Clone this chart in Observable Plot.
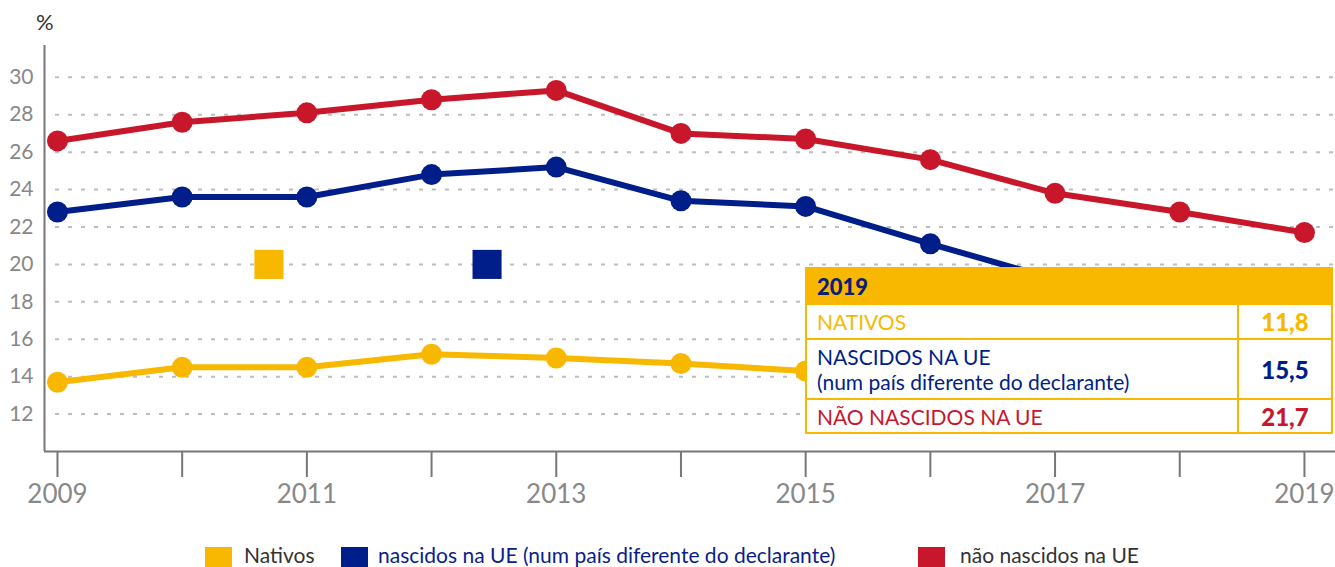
<!DOCTYPE html>
<html>
<head>
<meta charset="utf-8">
<script src="https://cdn.jsdelivr.net/npm/d3@7"></script>
<script src="https://cdn.jsdelivr.net/npm/@observablehq/plot@0.6"></script>
<style>
  html, body { margin: 0; padding: 0; background: #fff; }
  body { font-family: Lato, "Open Sans", sans-serif; }
  #wrap { position: relative; width: 1335px; height: 567px; overflow: hidden; background: #fff; }
  #chart svg { display: block; }
  #unit { position: absolute; left: 36px; top: 8px; font-size: 22px; color: #333; }
  #tip { position: absolute; left: 805px; top: 267px; width: 528px; background: #fff; }
  #tip table { border-collapse: collapse; width: 100%; background: #fff; }
  #tip th { background: #F9B800; color: #0A1E7A; text-align: left; font-size: 22px; font-weight: 900;
            height: 34px; padding: 0 10px; border: 2px solid #F9B800; }
  #tip td { border: 2px solid #F9B800; padding: 0 10px; font-size: 21px; line-height: 25px; }
  #tip td.val { width: 72px; text-align: center; font-weight: 900; font-size: 24px; }
  .legend { position: absolute; top: 530px; height: 37px; display: flex; align-items: center; font-size: 21px; }
  .legend .sw { width: 27px; height: 27px; margin-top: 24px; margin-right: 12px; flex: none; }
  .legend span { margin-top: 12px; }
</style>
</head>
<body>
<div id="wrap">
  <div id="chart"></div>
  <div id="unit">%</div>
  <div id="tip"></div>
</div>
<script>
// ---- data ----
const years = [2009, 2010, 2011, 2012, 2013, 2014, 2015, 2016, 2017, 2018, 2019];
const nativos       = [13.7, 14.5, 14.5, 15.2, 15.0, 14.7, 14.3, 13.6, 13.0, 12.4, 11.8];
const nascidosUE    = [22.8, 23.6, 23.6, 24.8, 25.2, 23.4, 23.1, 21.1, 19.2, 17.4, 15.5];
const naoNascidosUE = [26.6, 27.6, 28.1, 28.8, 29.3, 27.0, 26.7, 25.6, 23.8, 22.8, 21.7];
const seriesNames = ["Nativos", "nascidos na UE (num país diferente do declarante)", "não nascidos na UE"];
const seriesColors = ["#F9B800", "#001E8A", "#C8172B"];
const legendTextColors = ["#333333", "#0A1E8A", "#333333"];
const tableYear = 2019;
const tableLabels = ["NATIVOS", "NASCIDOS NA UE", "(num país diferente do declarante)", "NÃO NASCIDOS NA UE"];
const yTicks = [12, 14, 16, 18, 20, 22, 24, 26, 28, 30];
const xLabelYears = [2009, 2011, 2013, 2015, 2017, 2019];
const xDomain = [2008.896, 2019.249];
const yDomain = [10, 31.7];
// stray square markers seen in the chart
const strayX = [2010.696, 2012.445];
const strayY = [20, 20];
const straySeries = [seriesNames[0], seriesNames[1]];

// ---- build table ----
const allSeries = [nativos, nascidosUE, naoNascidosUE];
const data = [];
allSeries.forEach((vals, s) => years.forEach((yr, i) => data.push({year: yr, value: vals[i], series: seriesNames[s]})));
const markers = strayX.map((x, i) => ({x, y: strayY[i], series: straySeries[i]}));

const chart = Plot.plot({
  width: 1335,
  height: 530,
  marginLeft: 44,
  marginRight: 0,
  marginTop: 45,
  marginBottom: 79,
  x: {domain: xDomain, label: null},
  y: {domain: yDomain, label: null},
  color: {domain: seriesNames, range: seriesColors},
  style: {fontFamily: "Lato, sans-serif", background: "white", overflow: "visible"},
  marks: [
    Plot.gridY(yTicks, {insetLeft: 11, stroke: "#bdbdbd", strokeOpacity: 1, strokeWidth: 2, strokeDasharray: "4,9"}),
    Plot.axisY(yTicks, {tickSize: 0, tickPadding: 11, fontSize: 21, fill: "#888", label: null}),
    Plot.axisX(years, {tickSize: 26, tickPadding: 7, fontSize: 26, fill: "#888", stroke: "#777", strokeWidth: 2,
      label: null, tickFormat: d => xLabelYears.includes(d) ? String(d) : ""}),
    Plot.ruleY([yDomain[0]], {stroke: "#777", strokeWidth: 2}),
    Plot.ruleX([xDomain[0]], {y1: yDomain[0], y2: yDomain[1], stroke: "#777", strokeWidth: 2}),
    Plot.dot(markers, {x: "x", y: "y", fill: "series", symbol: "square", r: 16.4}),
    Plot.lineY(data, {x: "year", y: "value", z: "series", stroke: "series", strokeWidth: 6}),
    Plot.dot(data, {x: "year", y: "value", fill: "series", r: 10.5})
  ]
});
document.getElementById("chart").appendChild(chart);

// ---- tooltip table ----
const idx = years.indexOf(tableYear);
const fmt = v => v.toFixed(1).replace(".", ",");
const tip = document.getElementById("tip");
tip.innerHTML = `
<table>
  <tr><th colspan="2">${tableYear}</th></tr>
  <tr style="height:35px"><td style="color:${seriesColors[0]}">${tableLabels[0]}</td>
      <td class="val" style="color:${seriesColors[0]}">${fmt(nativos[idx])}</td></tr>
  <tr style="height:60px"><td style="color:${seriesColors[1]}">${tableLabels[1]}<br>${tableLabels[2]}</td>
      <td class="val" style="color:${seriesColors[1]}">${fmt(nascidosUE[idx])}</td></tr>
  <tr style="height:34px"><td style="color:${seriesColors[2]}">${tableLabels[3]}</td>
      <td class="val" style="color:${seriesColors[2]}">${fmt(naoNascidosUE[idx])}</td></tr>
</table>`;

// ---- legend ----
const legendLefts = [205, 341, 918];
const legendGaps = [12, 10, 15];
const wrap = document.getElementById("wrap");
seriesNames.forEach((name, i) => {
  const d = document.createElement("div");
  d.className = "legend";
  d.style.left = legendLefts[i] + "px";
  d.innerHTML = `<div class="sw" style="background:${seriesColors[i]};margin-right:${legendGaps[i]}px"></div><span style="color:${legendTextColors[i]}">${name}</span>`;
  wrap.appendChild(d);
});
</script>
</body>
</html>
